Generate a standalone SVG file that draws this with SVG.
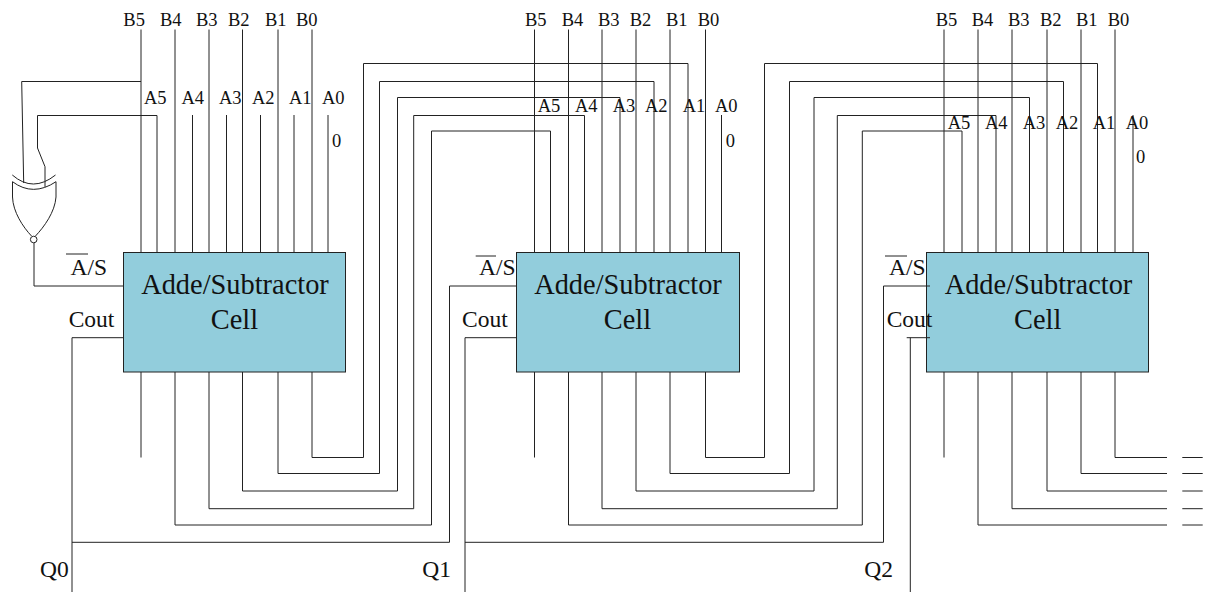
<svg xmlns="http://www.w3.org/2000/svg" width="1207" height="592" viewBox="0 0 1207 592">
<style>
text{font-family:"Liberation Serif","Times New Roman",serif;fill:#111}
.p{font-size:18.5px}
.m{font-size:23.5px}
.t{font-size:28.4px;text-anchor:middle}
.w{fill:none;stroke:#222;stroke-width:1}
.b{fill:#92cddc;stroke:#222;stroke-width:1}
</style>
<rect width="1207" height="592" fill="#fff"/>
<g id="connectors" class="w">
<!-- cell 1 inputs -->
<path d="M141 29.5V252.5M175 29.5V252.5M209 29.5V252.5M242.5 29.5V252.5M278 29.5V252.5M312 29.5V252.5"/>
<path d="M192.5 115V252.5M226.5 115V252.5M260.5 115V252.5M294 115V252.5M328 115V252.5"/>
<!-- xor gate wiring -->
<path d="M141 81.5H21.7L23.7 183"/>
<path d="M157 252.5V115.5H37.5V148L45 166.7V187"/>
<path d="M34 243V286H123.5"/>
<!-- cell 1 outputs -->
<path d="M141 372V457.5"/>
<path d="M312 372V457.5H363.5V63.5H688V252.5"/>
<path d="M278 372V473.5H379.5V81.5H654V252.5"/>
<path d="M242.5 372V491H397.5V97.5H620V252.5"/>
<path d="M209 372V508.7H413.7V115.5H584.5V252.5"/>
<path d="M175 372V525H431.5V131H550.5V252.5"/>
<path d="M123.5 337.7H72V592"/>
<path d="M72 542.3H449.5V286H516.5"/>
<!-- cell 2 inputs -->
<path d="M534.5 29.5V252.5M568.5 29.5V252.5M602 29.5V252.5M636 29.5V252.5M670 29.5V252.5M705.5 29.5V252.5M721.5 115V252.5"/>
<!-- cell 2 outputs -->
<path d="M534.5 372V457.5"/>
<path d="M705.5 372V457.5H764.5V63.5H1097.5V252.5"/>
<path d="M670 372V473.5H789.5V81.5H1063.5V252.5"/>
<path d="M636 372V491H814V97.5H1029.5V252.5"/>
<path d="M602 372V508.7H837.3V115.5H996V252.5"/>
<path d="M568.5 372V525H862.3V131H962V252.5"/>
<path d="M516.5 337.7H465V592"/>
<path d="M465 542.3H883.5V286H928.3"/>
<!-- cell 3 inputs -->
<path d="M944 29.5V252.5M978 29.5V252.5M1012 29.5V252.5M1047 29.5V252.5M1081 29.5V252.5M1115 29.5V252.5M1133 115V252.5"/>
<!-- cell 3 outputs -->
<path d="M944 372V457.5"/>
<path d="M1115 372V457.5H1167M1182.3 457.5H1202.7"/>
<path d="M1081 372V473.5H1167M1182.3 473.5H1202.7"/>
<path d="M1047 372V491H1167M1182.3 491H1202.7"/>
<path d="M1012 372V508.7H1167M1182.3 508.7H1202.7"/>
<path d="M978 372V525H1167M1182.3 525H1202.7"/>
</g>
<g id="xor-gate" class="w">
<path d="M12.3 175Q33 193 55.5 175"/>
<path d="M12.5 181.7Q33 197 56 181.7V197C55 212 44 227 35.5 236"/>
<path d="M12.5 181.7V197C13 212 23 227 31.5 236"/>
<circle cx="33.7" cy="239.5" r="3.3"/>
</g>
<g id="cell-1">
<rect class="b" x="123.5" y="252.5" width="222" height="119.5"/>
<text class="t" x="235" y="293.5">Adde/Subtractor</text>
<text class="t" x="234.5" y="328.7">Cell</text>
<text class="p" x="123.3" y="26">B5</text><text class="p" x="160" y="26">B4</text><text class="p" x="196" y="26">B3</text><text class="p" x="228" y="26">B2</text><text class="p" x="265" y="26">B1</text><text class="p" x="296" y="26">B0</text>
<text class="p" x="144" y="103.5">A5</text><text class="p" x="181.5" y="103.5">A4</text><text class="p" x="219" y="103.5">A3</text><text class="p" x="252" y="103.5">A2</text><text class="p" x="289" y="103.5">A1</text><text class="p" x="322" y="103.5">A0</text>
<text class="p" x="332" y="147">0</text>
<text class="m" x="70.5" y="275">A/S</text>
<path class="w" d="M66 254H88"/>
<text class="m" x="68.7" y="327">Cout</text>
<text class="m" x="40" y="577">Q0</text>
</g>
<g id="cell-2">
<rect class="b" x="516.5" y="252.5" width="223" height="119.5"/>
<text class="t" x="628" y="293.5">Adde/Subtractor</text>
<text class="t" x="627.5" y="328.7">Cell</text>
<text class="p" x="525" y="26">B5</text><text class="p" x="561.7" y="26">B4</text><text class="p" x="598" y="26">B3</text><text class="p" x="629.7" y="26">B2</text><text class="p" x="666" y="26">B1</text><text class="p" x="697.7" y="26">B0</text>
<text class="p" x="537.7" y="111.7">A5</text><text class="p" x="575" y="111.7">A4</text><text class="p" x="612.7" y="111.7">A3</text><text class="p" x="645" y="111.7">A2</text><text class="p" x="682.7" y="111.7">A1</text><text class="p" x="715" y="111.7">A0</text>
<text class="p" x="725.7" y="147">0</text>
<text class="m" x="479" y="275">A/S</text>
<path class="w" d="M475.7 256H496"/>
<text class="m" x="462" y="327">Cout</text>
<text class="m" x="422.3" y="577">Q1</text>
</g>
<g id="cell-3">
<rect class="b" x="926.5" y="252.5" width="222" height="119.5"/>
<path class="w" d="M926.5 286H930M906.7 337.7H930M910.3 337.7V592"/>
<text class="t" x="1038.5" y="293.5">Adde/Subtractor</text>
<text class="t" x="1037.7" y="328.7">Cell</text>
<text class="p" x="935.7" y="26">B5</text><text class="p" x="971.7" y="26">B4</text><text class="p" x="1008" y="26">B3</text><text class="p" x="1040" y="26">B2</text><text class="p" x="1076" y="26">B1</text><text class="p" x="1107.7" y="26">B0</text>
<text class="p" x="947.7" y="129.3">A5</text><text class="p" x="985" y="129.3">A4</text><text class="p" x="1022.7" y="129.3">A3</text><text class="p" x="1055.7" y="129.3">A2</text><text class="p" x="1092.7" y="129.3">A1</text><text class="p" x="1125.7" y="129.3">A0</text>
<text class="p" x="1136" y="163">0</text>
<text class="m" x="889" y="275">A/S</text>
<path class="w" d="M885 256H907"/>
<text class="m" x="886.7" y="327">Cout</text>
<text class="m" x="864.3" y="577">Q2</text>
</g>
</svg>
